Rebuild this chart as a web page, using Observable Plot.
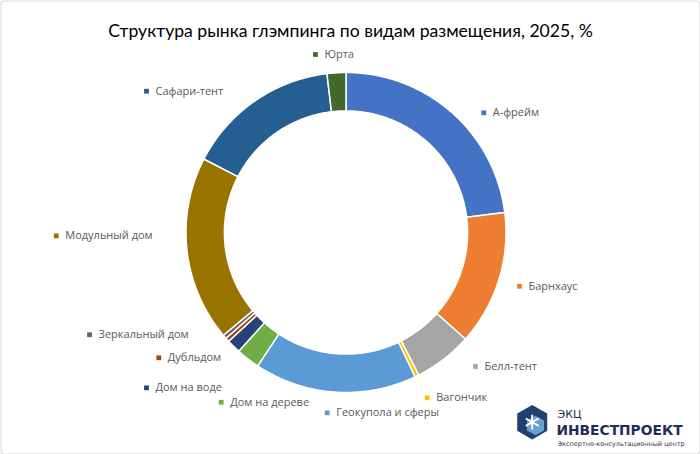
<!DOCTYPE html>
<html><head><meta charset="utf-8">
<script src="https://cdn.jsdelivr.net/npm/d3@7"></script>
<script src="https://cdn.jsdelivr.net/npm/@observablehq/plot@0.6"></script>
<style>
body{margin:0;background:#fff;}
#chart{width:700px;height:454px;}
</style></head><body><div id="chart"></div>
<script>
// ---- data ----
const title = "Структура рынка глэмпинга по видам размещения, 2025, %";
const categories = ["А-фрейм","Барнхаус","Белл-тент","Вагончик","Геокупола и сферы","Дом на дереве","Дом на воде","Дубльдом","Зеркальный дом","Модульный дом","Сафари-тент","Юрта"];
const shares = [23.0, 13.6, 5.9, 0.4, 16.4, 2.4, 1.4, 0.4, 0.4, 18.7, 15.5, 1.9];
const colors = ["#4472C4","#ED7D31","#A5A5A5","#FFC000","#5B9BD5","#70AD47","#264478","#9E480E","#636363","#997300","#255E91","#43682B"];
const logoTitle = "ЭКЦ";
const logoName = "ИНВЕСТПРОЕКТ";
const logoSub = "Экспертно-консультационный центр";

// ---- layout (not data) ----
const W = 700, H = 454;
const CX = 345.5, CY = 232, R = 160;   // ring centre / outer radius in px
const HOLE = 0.76;                      // inner radius / outer radius
// label anchors in units of the outer radius, relative to the ring centre
const labelAnchors = [
  [0.861, 0.748], [1.084, -0.336], [0.809, -0.8375], [0.5075, -1.033],
  [-0.1175, -1.127], [-0.78, -1.061], [-1.247, -0.971], [-1.170, -0.783],
  [-1.603, -0.639], [-1.811, -0.021], [-1.247, 0.883], [-0.191, 1.1125]
];

// ---- build slices ----
const arcs = d3.pie().sort(null).value(d => d)(shares);
const ring = arcs.flatMap((a, i) => {
  const n = Math.max(2, Math.ceil((a.endAngle - a.startAngle) / 0.01));
  const pts = [];
  for (let k = 0; k <= n; k++) {
    const t = a.startAngle + (a.endAngle - a.startAngle) * k / n;
    pts.push({cat: categories[i], x: Math.sin(t), y: Math.cos(t)});
  }
  for (let k = n; k >= 0; k--) {
    const t = a.startAngle + (a.endAngle - a.startAngle) * k / n;
    pts.push({cat: categories[i], x: HOLE * Math.sin(t), y: HOLE * Math.cos(t)});
  }
  return pts;
});
const labels = categories.map((c, i) => ({cat: c, x: labelAnchors[i][0], y: labelAnchors[i][1]}));
const toX = px => (px - CX) / R, toY = py => (CY - py) / R;

const chart = Plot.plot({
  width: W, height: H,
  margin: 0,
  style: {background: "#fff", fontFamily: "'Open Sans', sans-serif"},
  x: {domain: [toX(0), toX(W)], axis: null},
  y: {domain: [toY(H), toY(0)], axis: null},
  color: {domain: categories, range: colors},
  marks: [
    Plot.frame({stroke: "#d9d9d9", inset: 0.5, rx: 3}),
    Plot.line(ring, {x: "x", y: "y", z: "cat", fill: "cat", stroke: "#fff", strokeWidth: 1.5, curve: "linear-closed"}),
    Plot.dot(labels, {x: "x", y: "y", fill: "cat", symbol: "square", r: 2.7}),
    Plot.text(labels, {x: "x", y: "y", text: "cat", dx: 9, textAnchor: "start", fill: "#595959", fontSize: 11, fontFamily: "'Open Sans', sans-serif"}),
    Plot.text([title], {frameAnchor: "top", dy: 24, fontSize: 17.6, fill: "#000", fontFamily: "Lato, sans-serif"}),
    // logo
    Plot.dot([0], {x: () => toX(531.7), y: () => toY(421.7), symbol: "hexagon", r: 15, fill: "#21406f"}),
    Plot.dot([0], {x: () => toX(535), y: () => toY(425), symbol: "hexagon", r: 8.5, fill: "#6a9fd4"}),
    Plot.dot([0], {x: () => toX(531.7), y: () => toY(421.7), symbol: "asterisk", r: 7, stroke: "#fff", strokeWidth: 2}),
    Plot.text([logoTitle], {frameAnchor: "top-left", dx: 557, dy: 410, textAnchor: "start", fontSize: 11, fill: "#1f2d5a", fontFamily: "'DejaVu Sans', sans-serif"}),
    Plot.text([logoName], {frameAnchor: "top-left", dx: 556, dy: 424.5, textAnchor: "start", fontSize: 13.8, fontWeight: "bold", fill: "#1f2d5a", fontFamily: "'DejaVu Sans', sans-serif"}),
    Plot.text([logoSub], {frameAnchor: "top-left", dx: 557, dy: 440.5, textAnchor: "start", fontSize: 6.5, fill: "#333", fontFamily: "'DejaVu Sans', sans-serif"})
  ]
});
document.getElementById("chart").appendChild(chart);
</script></body></html>
